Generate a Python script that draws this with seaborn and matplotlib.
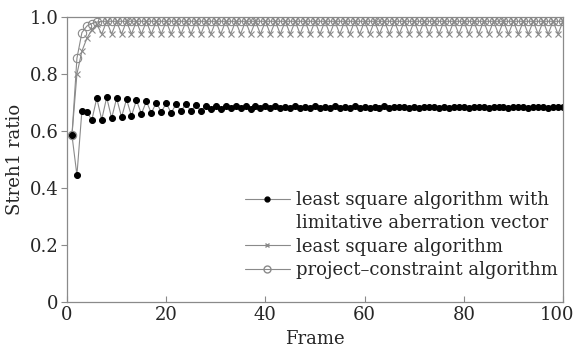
import matplotlib
matplotlib.use("Agg")
import matplotlib.pyplot as plt
from matplotlib.lines import Line2D
from matplotlib.transforms import ScaledTranslation
import seaborn as sns
import pandas as pd

frames = list(range(1, 101))

lsq_limit = [
    0.585, 0.445, 0.670, 0.668, 0.638, 0.715, 0.640, 0.718, 0.645, 0.715,
    0.649, 0.711, 0.653, 0.708, 0.660, 0.704, 0.663, 0.700, 0.667, 0.697,
    0.664, 0.694, 0.670, 0.696, 0.669, 0.691, 0.670, 0.689, 0.676, 0.686,
    0.676, 0.689, 0.679, 0.688, 0.679, 0.689, 0.678, 0.687, 0.680, 0.686,
    0.679, 0.687, 0.680, 0.685, 0.681, 0.686, 0.680, 0.685, 0.681, 0.686,
    0.682, 0.685, 0.680, 0.686, 0.682, 0.684, 0.681, 0.686, 0.682, 0.685,
    0.681, 0.684, 0.682, 0.686, 0.682, 0.684, 0.683, 0.685, 0.681, 0.685,
    0.682, 0.684, 0.683, 0.685, 0.682, 0.684, 0.681, 0.685, 0.683, 0.684,
    0.682, 0.685, 0.683, 0.684, 0.682, 0.685, 0.683, 0.684, 0.682, 0.685,
    0.683, 0.684, 0.682, 0.684, 0.683, 0.685, 0.682, 0.684, 0.683, 0.685,
]

lsq = [
    0.585, 0.800, 0.880, 0.925, 0.955, 0.975, 0.940, 0.985, 0.940, 0.985,
    0.940, 0.985, 0.940, 0.985, 0.940, 0.985, 0.940, 0.985, 0.940, 0.985,
    0.940, 0.985, 0.940, 0.985, 0.940, 0.985, 0.940, 0.985, 0.940, 0.985,
    0.940, 0.985, 0.940, 0.985, 0.940, 0.985, 0.940, 0.985, 0.940, 0.985,
    0.940, 0.985, 0.940, 0.985, 0.940, 0.985, 0.940, 0.985, 0.940, 0.985,
    0.940, 0.985, 0.940, 0.985, 0.940, 0.985, 0.940, 0.985, 0.940, 0.985,
    0.940, 0.985, 0.940, 0.985, 0.940, 0.985, 0.940, 0.985, 0.940, 0.985,
    0.940, 0.985, 0.940, 0.985, 0.940, 0.985, 0.940, 0.985, 0.940, 0.985,
    0.940, 0.985, 0.940, 0.985, 0.940, 0.985, 0.940, 0.985, 0.940, 0.985,
    0.940, 0.985, 0.940, 0.985, 0.940, 0.985, 0.940, 0.985, 0.940, 0.985,
]

project = [
    0.585, 0.855, 0.945, 0.968, 0.977, 0.982, 0.985, 0.985, 0.985, 0.985,
    0.985, 0.985, 0.985, 0.985, 0.985, 0.985, 0.985, 0.985, 0.985, 0.985,
    0.985, 0.985, 0.985, 0.985, 0.985, 0.985, 0.985, 0.985, 0.985, 0.985,
    0.985, 0.985, 0.985, 0.985, 0.985, 0.985, 0.985, 0.985, 0.985, 0.985,
    0.985, 0.985, 0.985, 0.985, 0.985, 0.985, 0.985, 0.985, 0.985, 0.985,
    0.985, 0.985, 0.985, 0.985, 0.985, 0.985, 0.985, 0.985, 0.985, 0.985,
    0.985, 0.985, 0.985, 0.985, 0.985, 0.985, 0.985, 0.985, 0.985, 0.985,
    0.985, 0.985, 0.985, 0.985, 0.985, 0.985, 0.985, 0.985, 0.985, 0.985,
    0.985, 0.985, 0.985, 0.985, 0.985, 0.985, 0.985, 0.985, 0.985, 0.985,
    0.985, 0.985, 0.985, 0.985, 0.985, 0.985, 0.985, 0.985, 0.985, 0.985,
]

labels = [
    "least square algorithm with",
    "limitative aberration vector",
    "least square algorithm",
    "project\u2013constraint algorithm",
]
xticks = [0, 20, 40, 60, 80, 100]
yticks = [0, 0.2, 0.4, 0.6, 0.8, 1.0]
ytick_labels = ["0", "0.2", "0.4", "0.6", "0.8", "1.0"]

sns.set_style("white")
plt.rcParams["font.family"] = ["DejaVu Serif"]

GRAY = "#8a8a8a"

df = pd.DataFrame({"frame": frames, "a": lsq_limit, "b": lsq, "c": project})

fig = plt.figure(figsize=(5.75, 3.5), dpi=100)
ax = fig.add_axes([67 / 575, 1 - 302 / 350, (563 - 67) / 575, (302 - 17) / 350])

sns.lineplot(data=df, x="frame", y="c", ax=ax, color=GRAY, lw=0.8,
             marker="o", markersize=6, markerfacecolor="none",
             markeredgecolor=GRAY, markeredgewidth=0.8)
sns.lineplot(data=df, x="frame", y="b", ax=ax, color=GRAY, lw=0.8,
             marker="x", markersize=5, markeredgecolor=GRAY,
             markeredgewidth=0.8)
sns.lineplot(data=df, x="frame", y="a", ax=ax, color=GRAY, lw=0.8,
             marker="o", markersize=4.3, markerfacecolor="black",
             markeredgecolor="black")

ax.set_xlim(0, 100)
ax.set_ylim(0, 1.0)
ax.set_xticks(xticks)
ax.set_yticks(yticks)
ax.set_yticklabels(ytick_labels)
ax.set_xlabel("Frame", fontsize=13)
ax.set_ylabel("Streh1 ratio", fontsize=13)

for s in ax.spines.values():
    s.set_color(GRAY)
    s.set_linewidth(0.9)
ax.tick_params(axis="x", direction="in", length=4, color=GRAY, labelsize=13,
               bottom=True, pad=3)
ax.tick_params(axis="y", direction="out", length=4, color=GRAY, labelsize=13,
               left=True, pad=2)

last = ax.get_xticklabels()[-1]
last.set_transform(last.get_transform() +
                   ScaledTranslation(-6 / 100, 0, fig.dpi_scale_trans))

handles = [
    Line2D([], [], color=GRAY, lw=0.8, marker="o", markersize=3.5,
           markerfacecolor="black", markeredgecolor="black"),
    Line2D([], [], color="none"),
    Line2D([], [], color=GRAY, lw=0.8, marker="x", markersize=3.5,
           markeredgecolor=GRAY),
    Line2D([], [], color=GRAY, lw=0.8, marker="o", markersize=5,
           markerfacecolor="none", markeredgecolor=GRAY),
]
ax.legend(handles, labels, loc="lower right", bbox_to_anchor=(0.99, 0.08),
          frameon=False, fontsize=13, handlelength=2.5, handletextpad=0.35,
          labelspacing=0.3, borderaxespad=0, borderpad=0)

fig.savefig("out.png", dpi=100)
